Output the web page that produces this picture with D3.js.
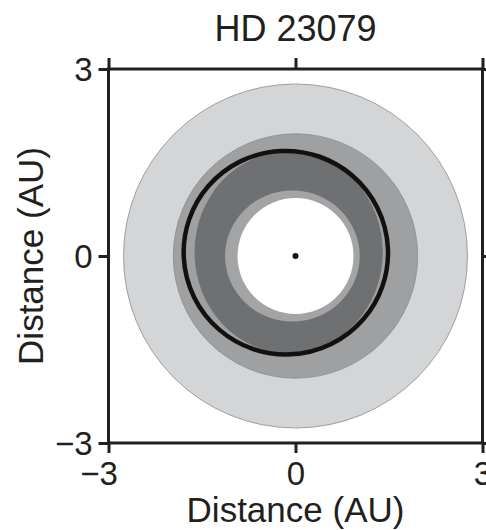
<!DOCTYPE html>
<html><head><meta charset="utf-8">
<script src="https://cdn.jsdelivr.net/npm/d3@7"></script>
<style>
html,body{margin:0;padding:0;background:#fff;}
svg{display:block;}
text{font-family:"Liberation Sans",Arial,sans-serif;fill:#231f20;}
</style></head>
<body>
<svg id="chart" width="486" height="530"></svg>
<script>
// ---- data ----
const chartTitle = "HD 23079";
const axisLabel = "Distance (AU)";
const tickValues = [-3, 0, 3];
const axisDomain = [-3, 3];
// zones drawn from largest to smallest: centre (AU), radii rx / ry (AU)
const zoneNames   = ["outer", "optimistic", "conservative", "inner edge", "interior"];
const zoneCenterX = [0, 0, -0.11, -0.05, 0];
const zoneCenterY = [0, 0, 0.06, 0, 0];
const zoneRadiusX = [2.76, 1.96, 1.51, 1.08, 0.93];
const zoneRadiusY = [2.76, 1.96, 1.62, 1.05, 0.93];
// planet orbit
const orbitA = 1.64;      // semi-major axis, AU
const orbitE = 0.10;      // eccentricity
const orbitOmega = -19;   // direction of periastron, degrees
const starPos = [0, 0];

// ---- styles ----
const zoneFill = {"outer":"#d4d5d7","optimistic":"#9fa0a2","conservative":"#6f7072","inner edge":"#a3a4a6","interior":"#ffffff"};
const zoneStroke = {"outer":"#8a8b8d","optimistic":"#8a8b8d","conservative":"none","inner edge":"none","interior":"none"};
const ink = "#231f20";

const svg = d3.select("#chart");
const x = d3.scaleLinear().domain(axisDomain).range([108.5, 482.5]);
const y = d3.scaleLinear().domain(axisDomain).range([443, 69]);
const px = d => x(d) - x(0);

const g = svg.append("g");
g.selectAll("ellipse.zone").data(zoneNames.map((n,i)=>({name:n,cx:zoneCenterX[i],cy:zoneCenterY[i],rx:zoneRadiusX[i],ry:zoneRadiusY[i]})))
  .join("ellipse").attr("class","zone")
  .attr("cx", d => x(d.cx)).attr("cy", d => y(d.cy))
  .attr("rx", d => px(d.rx)).attr("ry", d => px(d.ry))
  .attr("fill", d => zoneFill[d.name])
  .attr("stroke", d => zoneStroke[d.name])
  .attr("stroke-width", 0.8);

// orbit ellipse: star at focus, centre offset toward apastron
const om = orbitOmega * Math.PI/180;
const cxData = starPos[0] - orbitA*orbitE*Math.cos(om);
const cyData = starPos[1] - orbitA*orbitE*Math.sin(om);
const bAxis = orbitA*Math.sqrt(1-orbitE*orbitE);
g.append("ellipse")
  .attr("cx", 0).attr("cy", 0)
  .attr("rx", px(orbitA)).attr("ry", px(bAxis))
  .attr("transform", `translate(${x(cxData)},${y(cyData)}) rotate(${-orbitOmega})`)
  .attr("fill","none").attr("stroke", "#111").attr("stroke-width", 4.5);

g.append("circle").attr("cx", x(starPos[0])).attr("cy", y(starPos[1])).attr("r", 3).attr("fill", "#111");

// frame
svg.append("rect").attr("x", x(-3)).attr("y", y(3)).attr("width", x(3)-x(-3)).attr("height", y(-3)-y(3))
  .attr("fill","none").attr("stroke", ink).attr("stroke-width", 3);

const fmt = d => d < 0 ? "\u2212" + Math.abs(d) : String(d);
const fs = 33;

const axLeft = svg.append("g").attr("transform", `translate(${x(-3)},0)`)
  .call(d3.axisLeft(y).tickValues(tickValues).tickFormat(fmt).tickSize(10).tickSizeOuter(0).tickPadding(6));
const axBottom = svg.append("g").attr("transform", `translate(0,${y(-3)})`)
  .call(d3.axisBottom(x).tickValues(tickValues).tickFormat(fmt).tickSize(10).tickSizeOuter(0).tickPadding(8));
const axTop = svg.append("g").attr("transform", `translate(0,${y(3)})`)
  .call(d3.axisTop(x).tickValues(tickValues).tickFormat("").tickSize(11).tickSizeOuter(0));
const axRight = svg.append("g").attr("transform", `translate(${x(3)},0)`)
  .call(d3.axisRight(y).tickValues(tickValues).tickFormat("").tickSize(10).tickSizeOuter(0));

[axLeft,axBottom,axTop,axRight].forEach(a => {
  a.select(".domain").remove();
  a.selectAll(".tick line").attr("stroke", ink).attr("stroke-width", 3);
  a.selectAll(".tick text").attr("font-size", fs).attr("font-family", null).attr("fill", ink);
});
axLeft.selectAll(".tick text").attr("dy", "0.36em");
axBottom.selectAll(".tick text").attr("dy", "0.74em")
  .attr("dx", d => d < 0 ? -10 : 0);

svg.append("text").attr("x", x(0)).attr("y", 41).attr("text-anchor","middle")
  .attr("font-size", 36).text(chartTitle);
svg.append("text").attr("x", x(0)).attr("y", 522).attr("text-anchor","middle")
  .attr("font-size", 35).text(axisLabel);
svg.append("text").attr("transform", `translate(43,${y(0)}) rotate(-90)`).attr("text-anchor","middle")
  .attr("font-size", 35).text(axisLabel);
</script>
</body></html>
